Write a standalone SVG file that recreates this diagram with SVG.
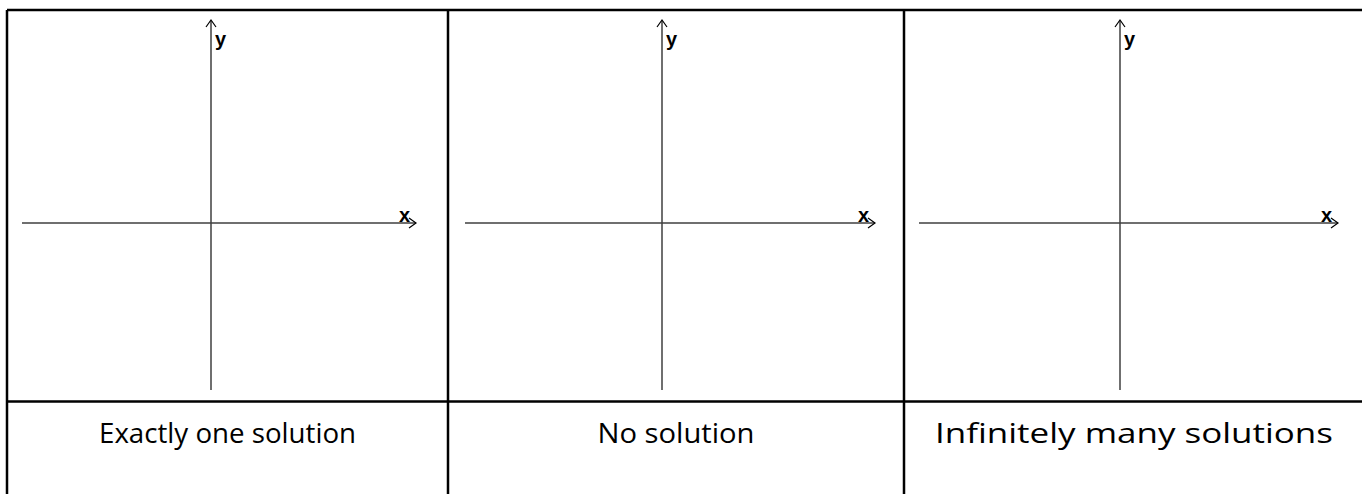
<svg xmlns="http://www.w3.org/2000/svg" width="1362" height="494" viewBox="0 0 1362 494">
<style>
.grid{stroke:#000;stroke-width:2.5;fill:none}
.axis{stroke:#404040;stroke-width:1.5;fill:none}
.head{stroke:#000;stroke-width:1.2;fill:none}
.lab{font-family:"Liberation Sans",Arial,sans-serif;font-weight:bold;font-size:20px;fill:#000}
.cap{font-family:"Open Sans","Liberation Sans",sans-serif;font-size:28px;fill:#000;text-anchor:middle}
</style>
<rect width="1362" height="494" fill="#fff"/>
<g id="table">
<path class="grid" d="M7 10H1362M7 401.5H1362M7 10V494M448 10V494M904 10V494"/>
</g>
<g id="panel1">
<path class="axis" d="M211 21V390M22 223H416"/>
<path class="head" d="M206 27L211 20L216 27M409 218L416 223L409 228"/>
<text class="lab" x="215" y="46">y</text>
<text class="lab" x="399" y="222">x</text>
<text class="cap" x="227.5" y="443" textLength="257" lengthAdjust="spacingAndGlyphs">Exactly one solution</text>
</g>
<g id="panel2">
<path class="axis" d="M662 21V390M465 223H875"/>
<path class="head" d="M657 27L662 20L667 27M868 218L875 223L868 228"/>
<text class="lab" x="666" y="46">y</text>
<text class="lab" x="858" y="222">x</text>
<text class="cap" x="676" y="443" textLength="157" lengthAdjust="spacingAndGlyphs">No solution</text>
</g>
<g id="panel3">
<path class="axis" d="M1120 21V390M919 223H1338"/>
<path class="head" d="M1115 27L1120 20L1125 27M1331 218L1338 223L1331 228"/>
<text class="lab" x="1124" y="46">y</text>
<text class="lab" x="1321" y="222">x</text>
<text class="cap" x="1134" y="443" textLength="398" lengthAdjust="spacingAndGlyphs">Infinitely many solutions</text>
</g>
</svg>
